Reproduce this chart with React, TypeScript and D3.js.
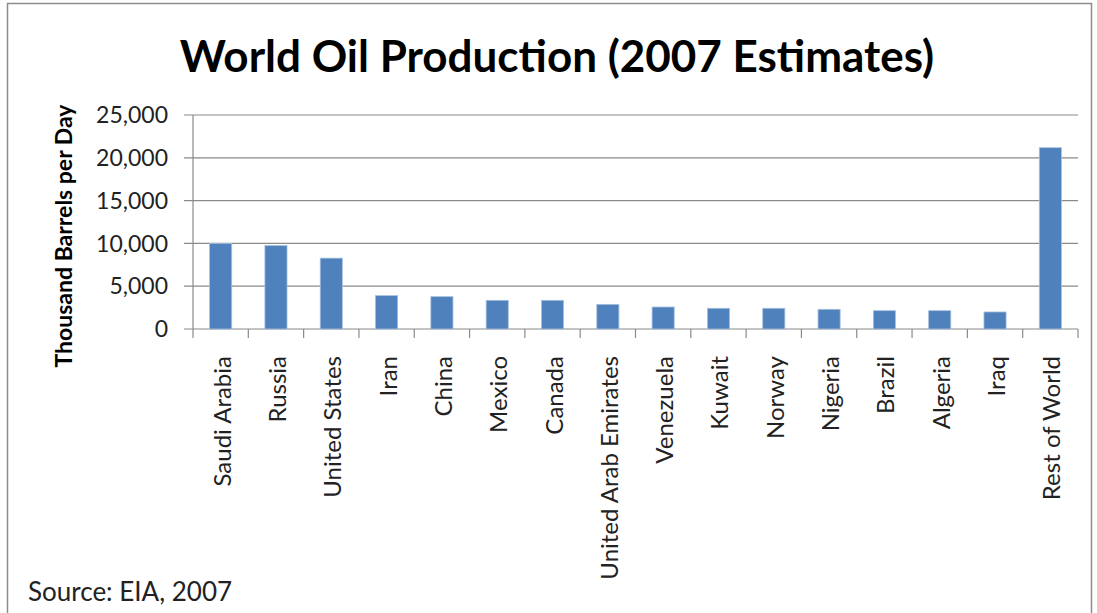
import * as d3 from "d3";

const countries = [
  "Saudi Arabia",
  "Russia",
  "United States",
  "Iran",
  "China",
  "Mexico",
  "Canada",
  "United Arab Emirates",
  "Venezuela",
  "Kuwait",
  "Norway",
  "Nigeria",
  "Brazil",
  "Algeria",
  "Iraq",
  "Rest of World",
];
const production = [
  10000, 9750, 8280, 3900, 3780, 3350, 3350, 2880, 2570, 2420, 2420, 2300, 2140, 2140, 1990, 21180,
];
const yTicks = [0, 5000, 10000, 15000, 20000, 25000];

const font = "Lato, Carlito, Calibri, sans-serif";

export default function App() {
  const width = 1097;
  const height = 613;
  const left = 193;
  const right = 1078;
  const top = 115;
  const bottom = 329;

  const x = d3.scaleBand<string>().domain(countries).range([left, right]).paddingInner(0.6).paddingOuter(0.3);
  const band = d3.scaleBand<string>().domain(countries).range([left, right]);
  const y = d3.scaleLinear().domain([0, 25000]).range([bottom, top]);
  const fmt = d3.format(",");

  return (
    <svg
      width={width}
      height={height}
      style={{ position: "absolute", left: 0, top: 0, background: "#fff" }}
      fontFamily={font}
    >
      <rect x={7.5} y={3.5} width={1084} height={640} fill="#fff" stroke="#8c8c8c" strokeWidth={1.5} />
      <text x={557} y={72} textAnchor="middle" fontSize={44} fontWeight="bold" fill="#000">
        World Oil Production (2007 Estimates)
      </text>

      {yTicks.map((t) => (
        <g key={t}>
          <line x1={184} x2={right} y1={y(t)} y2={y(t)} stroke="#8a8a8a" strokeWidth={1.2} />
          <text x={168} y={y(t)} dy="0.36em" textAnchor="end" fontSize={23} fill="#222">
            {fmt(t)}
          </text>
        </g>
      ))}
      <line x1={left} x2={left} y1={top} y2={bottom + 9} stroke="#8a8a8a" strokeWidth={1.2} />
      {countries.map((c) => (
        <line
          key={c + "-tick"}
          x1={(band(c) ?? 0) + band.bandwidth()}
          x2={(band(c) ?? 0) + band.bandwidth()}
          y1={bottom}
          y2={bottom + 9}
          stroke="#8a8a8a"
          strokeWidth={1.2}
        />
      ))}

      {countries.map((c, i) => (
        <rect
          key={c}
          x={x(c)}
          y={y(production[i])}
          width={x.bandwidth()}
          height={bottom - y(production[i])}
          fill="#4f81bd"
          stroke="#a7c0de"
          strokeWidth={0.8}
        />
      ))}

      {countries.map((c) => {
        const cx = (band(c) ?? 0) + band.bandwidth() / 2;
        return (
          <text
            key={c + "-label"}
            transform={`translate(${cx + 10},356) rotate(-90)`}
            textAnchor="end"
            fontSize={24}
            fill="#222"
          >
            {c}
          </text>
        );
      })}

      <text
        transform="translate(72,236) rotate(-90)"
        textAnchor="middle"
        fontSize={23}
        fontWeight="bold"
        fill="#000"
      >
        Thousand Barrels per Day
      </text>

      <text x={28} y={601} fontSize={26} fill="#222">
        Source: EIA, 2007
      </text>
    </svg>
  );
}
